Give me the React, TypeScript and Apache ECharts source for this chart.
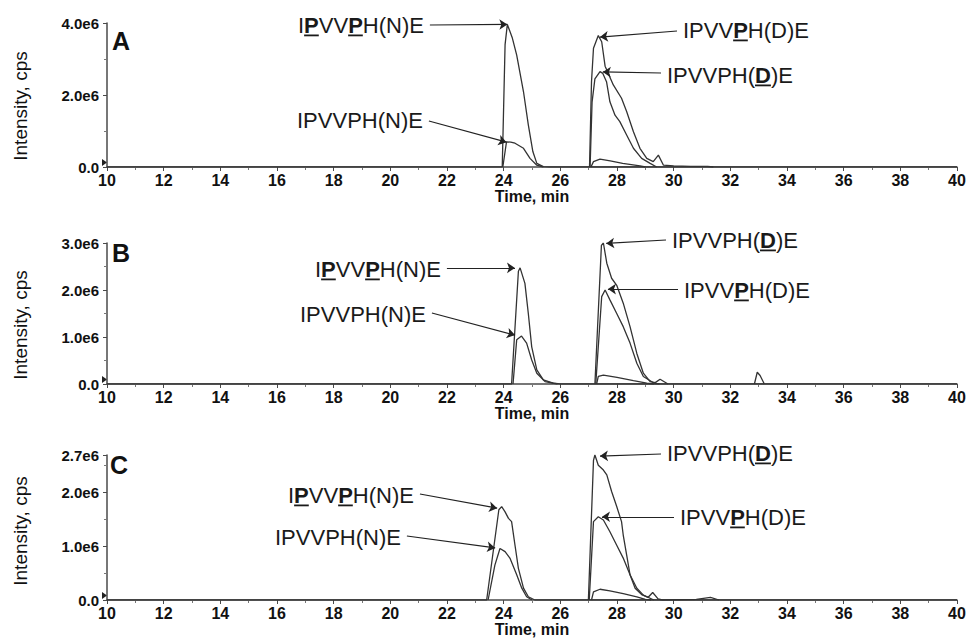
import React, { useEffect, useRef } from "react";
import * as echarts from "echarts";

// ---------- data ----------
const timeRange = [10, 40];
const timeInterval = 2;
const panelLetters = ["A", "B", "C"];
const yMaxValues = [4.0e6, 3.0e6, 2.7e6];
const yIntervals = [2.0e6, 1.0e6, 1.0e6];

// Panel A traces [time (min), intensity (cps)]
const A_PPN = [[10, 0], [23.95, 0], [24.05, 3.4e6], [24.13, 3.96e6], [24.3, 3.6e6], [24.46, 3.11e6], [24.7, 2.09e6], [24.87, 1.17e6], [25.03, 0.43e6], [25.17, 0.1e6], [25.4, 0.01e6], [25.6, 0], [40, 0]];
const A_N = [[23.97, 0], [24.1, 0.7e6], [24.25, 0.69e6], [24.4, 0.66e6], [24.7, 0.52e6], [24.93, 0.24e6], [25.17, 0.05e6], [25.4, 0]];
const A_PD = [[27.03, 0], [27.1, 2.37e6], [27.17, 3.3e6], [27.34, 3.65e6], [27.46, 3.48e6], [27.58, 2.8e6], [27.87, 2.28e6], [28.16, 1.91e6], [28.34, 1.54e6], [28.58, 0.98e6], [28.81, 0.52e6], [29.05, 0.24e6], [29.28, 0.15e6], [29.46, 0.33e6], [29.64, 0.05e6], [30.0, 0.03e6], [30.6, 0.02e6], [31.2, 0.02e6], [31.4, 0]];
const A_D = [[27.05, 0], [27.12, 1.8e6], [27.22, 2.45e6], [27.4, 2.65e6], [27.5, 2.6e6], [27.63, 2.37e6], [27.75, 1.81e6], [27.93, 1.44e6], [28.1, 1.26e6], [28.34, 0.89e6], [28.58, 0.52e6], [28.87, 0.24e6], [29.17, 0.1e6], [29.4, 0]];
const A_minor = [[27.08, 0], [27.17, 0.15e6], [27.4, 0.22e6], [27.76, 0.17e6], [28.2, 0.1e6], [28.81, 0.03e6], [29.0, 0]];

// Panel B traces
const B_PPN = [[10, 0], [24.28, 0], [24.52, 2.4e6], [24.58, 2.47e6], [24.75, 2.14e6], [24.87, 1.5e6], [24.99, 0.79e6], [25.17, 0.3e6], [25.4, 0.09e6], [25.75, 0.02e6], [26.0, 0], [40, 0]];
const B_N = [[24.33, 0], [24.46, 0.94e6], [24.63, 1.02e6], [24.81, 0.87e6], [24.99, 0.51e6], [25.17, 0.23e6], [25.46, 0.05e6], [25.9, 0]];
const B_D = [[27.22, 0], [27.45, 2.95e6], [27.52, 3.0e6], [27.64, 2.57e6], [27.81, 2.25e6], [27.99, 2.1e6], [28.22, 1.72e6], [28.46, 1.22e6], [28.7, 0.65e6], [28.93, 0.23e6], [29.17, 0.05e6], [29.35, 0.03e6], [29.52, 0.1e6], [29.8, 0]];
const B_PD = [[27.25, 0], [27.46, 1.86e6], [27.58, 2.0e6], [27.75, 1.79e6], [27.99, 1.5e6], [28.22, 1.22e6], [28.46, 0.87e6], [28.7, 0.44e6], [28.93, 0.16e6], [29.3, 0.02e6], [29.5, 0]];
const B_minor = [[27.28, 0], [27.34, 0.16e6], [27.52, 0.19e6], [28.0, 0.14e6], [28.58, 0.07e6], [29.05, 0.02e6], [29.3, 0]];
const B_spike = [[32.85, 0], [32.95, 0.25e6], [33.05, 0.18e6], [33.2, 0]];

// Panel C traces
const C_PPN = [[10, 0], [23.4, 0], [23.83, 1.68e6], [23.93, 1.74e6], [24.05, 1.64e6], [24.17, 1.52e6], [24.28, 1.46e6], [24.4, 1.02e6], [24.52, 0.59e6], [24.7, 0.22e6], [24.87, 0.06e6], [25.1, 0], [40, 0]];
const C_N = [[23.45, 0], [23.69, 0.65e6], [23.87, 0.96e6], [24.05, 0.9e6], [24.22, 0.78e6], [24.46, 0.47e6], [24.64, 0.22e6], [24.81, 0.06e6], [25.0, 0]];
const C_D = [[26.99, 0], [27.17, 2.6e6], [27.22, 2.7e6], [27.34, 2.51e6], [27.52, 2.42e6], [27.64, 2.33e6], [27.81, 2.02e6], [27.99, 1.74e6], [28.16, 1.46e6], [28.22, 1.21e6], [28.34, 0.84e6], [28.46, 0.47e6], [28.64, 0.22e6], [28.87, 0.1e6], [29.1, 0.05e6], [29.26, 0.14e6], [29.45, 0.02e6], [29.6, 0], [30.8, 0.01e6], [31.3, 0.05e6], [31.6, 0]];
const C_PD = [[27.02, 0], [27.17, 1.46e6], [27.34, 1.55e6], [27.52, 1.49e6], [27.75, 1.27e6], [27.99, 1.02e6], [28.22, 0.78e6], [28.46, 0.47e6], [28.7, 0.22e6], [28.93, 0.09e6], [29.3, 0]];
const C_minor = [[27.1, 0], [27.17, 0.15e6], [27.4, 0.2e6], [27.75, 0.17e6], [28.22, 0.12e6], [28.7, 0.06e6], [29.0, 0.01e6], [29.2, 0]];

const panelTraces = [
  [A_PPN, A_N, A_PD, A_D, A_minor],
  [B_PPN, B_N, B_D, B_PD, B_minor, B_spike],
  [C_PPN, C_N, C_D, C_PD, C_minor],
];

// Peptide labels: [text, underlined/bold]
type Piece = [string, boolean];
const L_PPN: Piece[] = [["I", false], ["P", true], ["VV", false], ["P", true], ["H(N)E", false]];
const L_N: Piece[] = [["IPVVPH(N)E", false]];
const L_PD: Piece[] = [["IPVV", false], ["P", true], ["H(D)E", false]];
const L_D: Piece[] = [["IPVVPH(", false], ["D", true], [")E", false]];

// ---------- layout ----------
const FONT = "'Liberation Sans', Arial, Helvetica, sans-serif";
const ANN_SIZE = 22;
const GRIDS = [
  { top: 23, height: 144 },
  { top: 243, height: 141 },
  { top: 455, height: 145 },
];
const GRID_LEFT = 107;
const GRID_RIGHT = 12;
const letterPos = [
  { x: 112, y: 41 },
  { x: 112, y: 253 },
  { x: 110, y: 465 },
];
const yNameCenter = [106, 325, 531];

const annotations = [
  { panel: 0, label: L_PPN, textX: 298, textY: 25, side: "left", lineY: 25, tip: [24.13, 3.96e6] },
  { panel: 0, label: L_N, textX: 297, textY: 120, side: "left", lineY: 121, tip: [24.1, 0.69e6] },
  { panel: 0, label: L_PD, textX: 683, textY: 30, side: "right", lineY: 31, tip: [27.4, 3.61e6] },
  { panel: 0, label: L_D, textX: 667, textY: 75, side: "right", lineY: 73, tip: [27.5, 2.64e6] },
  { panel: 1, label: L_PPN, textX: 315, textY: 269, side: "left", lineY: 268, tip: [24.4, 2.47e6] },
  { panel: 1, label: L_N, textX: 300, textY: 314, side: "left", lineY: 313, tip: [24.4, 1.04e6] },
  { panel: 1, label: L_D, textX: 672, textY: 240, side: "right", lineY: 240, tip: [27.62, 2.99e6] },
  { panel: 1, label: L_PD, textX: 684, textY: 290, side: "right", lineY: 289, tip: [27.68, 2.02e6] },
  { panel: 2, label: L_PPN, textX: 288, textY: 495, side: "left", lineY: 494, tip: [23.77, 1.71e6] },
  { panel: 2, label: L_N, textX: 275, textY: 537, side: "left", lineY: 536, tip: [23.7, 0.97e6] },
  { panel: 2, label: L_D, textX: 667, textY: 453, side: "right", lineY: 454, tip: [27.4, 2.68e6] },
  { panel: 2, label: L_PD, textX: 680, textY: 517, side: "right", lineY: 517, tip: [27.47, 1.55e6] },
];

const yFmt = (v: number) => (v === 0 ? "0.0" : (v / 1e6).toFixed(1) + "e6");

export default function App() {
  const ref = useRef<HTMLDivElement>(null);

  useEffect(() => {
    document.body.style.margin = "0";
    const el = ref.current!;
    const chart = echarts.init(el, null, { renderer: "svg" });

    const canvas = document.createElement("canvas");
    const ctx = canvas.getContext("2d")!;
    const measure = (s: string, bold: boolean) => {
      ctx.font = `${bold ? "bold " : ""}${ANN_SIZE}px ${FONT}`;
      return ctx.measureText(s).width;
    };

    const graphics: any[] = [];
    const markLines: any[][] = [[], [], []];

    annotations.forEach((a) => {
      const rich = a.label.map(([s, b]) => (b ? `{b|${s}}` : `{n|${s}}`)).join("");
      graphics.push({
        type: "text",
        x: a.textX,
        y: a.textY,
        silent: true,
        style: {
          text: rich,
          fill: "#1a1a1a",
          align: "left",
          verticalAlign: "middle",
          rich: {
            n: { fontFamily: FONT, fontSize: ANN_SIZE, fill: "#1a1a1a" },
            b: { fontFamily: FONT, fontSize: ANN_SIZE, fontWeight: "bold", fill: "#1a1a1a" },
          },
        },
      });
      let off = 0;
      a.label.forEach(([s, b]) => {
        const w = measure(s, b);
        if (b) {
          graphics.push({
            type: "rect",
            silent: true,
            shape: { x: a.textX + off, y: a.textY + 9.5, width: w, height: 1.8 },
            style: { fill: "#1a1a1a" },
          });
        }
        off += w;
      });
      const startX = a.side === "left" ? a.textX + off + 6 : a.textX - 6;
      markLines[a.panel].push([{ x: startX, y: a.lineY }, { coord: a.tip }]);
    });

    GRIDS.forEach((g, i) => {
      const bottom = g.top + g.height;
      graphics.push({
        type: "text",
        x: letterPos[i].x,
        y: letterPos[i].y,
        silent: true,
        style: {
          text: panelLetters[i],
          font: `bold 25px ${FONT}`,
          fill: "#111",
          align: "left",
          verticalAlign: "middle",
        },
      });
      graphics.push({
        type: "text",
        x: 20,
        y: yNameCenter[i],
        rotation: Math.PI / 2,
        silent: true,
        style: {
          text: "Intensity, cps",
          font: `19px ${FONT}`,
          fill: "#111",
          align: "center",
          verticalAlign: "middle",
        },
      });
      graphics.push({
        type: "polygon",
        silent: true,
        shape: { points: [[102, bottom - 8], [107, bottom - 4.5], [102, bottom - 1]] },
        style: { fill: "#222" },
      });
    });

    const axisColor = "#4a4a4a";
    const series: any[] = [];
    panelTraces.forEach((traces, p) => {
      traces.forEach((d, k) => {
        series.push({
          type: "line",
          xAxisIndex: p,
          yAxisIndex: p,
          data: d,
          symbol: "none",
          showSymbol: false,
          silent: true,
          z: 3,
          lineStyle: { color: "#333333", width: 1.3 },
          markLine:
            k === 0
              ? {
                  silent: true,
                  symbol: ["none", "arrow"],
                  symbolSize: 8,
                  label: { show: false },
                  emphasis: { disabled: true },
                  lineStyle: { color: "#222", width: 1.2, type: "solid" },
                  data: markLines[p],
                }
              : undefined,
        });
      });
    });

    const option: any = {
      animation: false,
      backgroundColor: "#ffffff",
      grid: GRIDS.map((g) => ({
        left: GRID_LEFT,
        right: GRID_RIGHT,
        top: g.top,
        height: g.height,
        containLabel: false,
        outerBoundsMode: "none",
      })),
      xAxis: GRIDS.map((_, i) => ({
        type: "value",
        gridIndex: i,
        min: timeRange[0],
        max: timeRange[1],
        interval: timeInterval,
        name: "Time, min",
        nameLocation: "middle",
        nameGap: 21,
        nameTextStyle: { fontFamily: FONT, fontWeight: "bold", fontSize: 16, color: "#111" },
        axisLine: { show: true, onZero: false, lineStyle: { color: axisColor, width: 1.5 } },
        axisTick: { show: true, length: 4, lineStyle: { color: axisColor } },
        minorTick: { show: true, splitNumber: 2, length: 3, lineStyle: { color: "#777" } },
        axisLabel: { fontFamily: FONT, fontWeight: "bold", fontSize: 16, color: "#111", margin: 5 },
        splitLine: { show: false },
        minorSplitLine: { show: false },
      })),
      yAxis: GRIDS.map((_, i) => ({
        type: "value",
        gridIndex: i,
        min: 0,
        max: yMaxValues[i],
        interval: yIntervals[i],
        axisLine: { show: true, onZero: false, lineStyle: { color: axisColor, width: 1.5 } },
        axisTick: { show: true, length: 4, lineStyle: { color: axisColor } },
        minorTick: { show: true, splitNumber: 2, length: 3, lineStyle: { color: "#777" } },
        axisLabel: {
          fontFamily: FONT,
          fontWeight: "bold",
          fontSize: 15,
          color: "#111",
          margin: 8,
          formatter: yFmt,
        },
        splitLine: { show: false },
        minorSplitLine: { show: false },
      })),
      series,
      graphic: graphics,
    };

    chart.setOption(option);
    return () => chart.dispose();
  }, []);

  return <div ref={ref} style={{ width: 969, height: 640, background: "#fff" }} />;
}
